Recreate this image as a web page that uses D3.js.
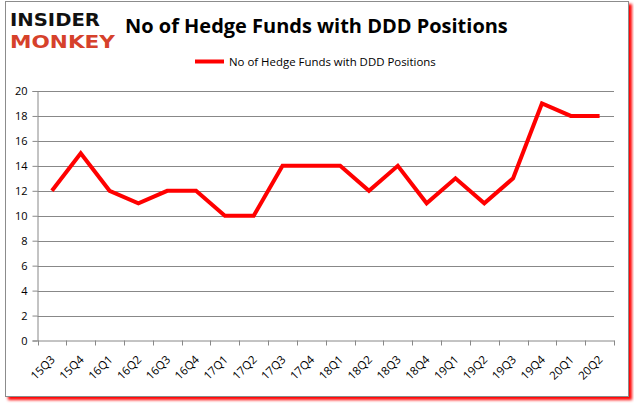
<!DOCTYPE html>
<html><head><meta charset="utf-8">
<script src="https://cdn.jsdelivr.net/npm/d3@7"></script>
<style>html,body{margin:0;padding:0;background:#fff;overflow:hidden}</style>
</head><body>
<svg id="c" width="634" height="404"></svg>
<script>
const categories = ["15Q3","15Q4","16Q1","16Q2","16Q3","16Q4","17Q1","17Q2","17Q3","17Q4","18Q1","18Q2","18Q3","18Q4","19Q1","19Q2","19Q3","19Q4","20Q1","20Q2"];
const values = [12,15,12,11,12,12,10,10,14,14,14,12,14,11,13,11,13,19,18,18];
const yTicks = [0,2,4,6,8,10,12,14,16,18,20];
const title = "No of Hedge Funds with DDD Positions";
const seriesName = "No of Hedge Funds with DDD Positions";

const svg = d3.select("#c");
const defs = svg.append("defs");
const f = defs.append("filter").attr("id","sh").attr("x","-5%").attr("y","-5%").attr("width","110%").attr("height","110%");
f.append("feGaussianBlur").attr("in","SourceAlpha").attr("stdDeviation",1.5).attr("result","b");
f.append("feFlood").attr("flood-color","#ff0000").attr("result","c");
f.append("feComposite").attr("in","c").attr("in2","b").attr("operator","in").attr("result","s");
f.append("feOffset").attr("in","s").attr("dx",3).attr("dy",3).attr("result","o");
const m = f.append("feMerge"); m.append("feMergeNode").attr("in","o"); m.append("feMergeNode").attr("in","SourceGraphic");

svg.append("rect").attr("x",5.5).attr("y",1.5).attr("width",623).attr("height",395)
  .attr("fill","#fff").attr("stroke","#8c8c8c").attr("stroke-width",1).attr("filter","url(#sh)");

const L = 37.5, R = 614, T = 91, B = 340.5;
const x = d3.scaleBand().domain(categories).range([L,R]);
const y = d3.scaleLinear().domain([0,20]).range([B,T]);

// gridlines
svg.append("g").selectAll("line").data(yTicks.filter(d=>d>0)).join("line")
  .attr("x1",L).attr("x2",R).attr("y1",d=>Math.round(y(d))+0.5).attr("y2",d=>Math.round(y(d))+0.5)
  .attr("stroke","#888").attr("stroke-width",1);

// y axis
const ya = svg.append("g").attr("transform",`translate(${L},0)`)
  .call(d3.axisLeft(y).tickValues(yTicks).tickSize(5).tickPadding(5));
ya.select(".domain").attr("stroke","#888");
ya.selectAll(".tick line").attr("stroke","#888");
ya.selectAll("text").attr("font-family","'Open Sans', sans-serif").attr("font-size",11).attr("fill","#000");

// x axis
const xa = svg.append("g").attr("transform",`translate(0,${B})`)
  .call(d3.axisBottom(x).tickSize(0).tickFormat(""));
xa.select(".domain").attr("stroke","#888");
xa.selectAll(".tick").remove();
const bounds = categories.map(c=>x(c)).concat([R]);
svg.append("g").selectAll("line").data(bounds).join("line")
  .attr("x1",d=>Math.round(d)+0.5).attr("x2",d=>Math.round(d)+0.5).attr("y1",B).attr("y2",B+5)
  .attr("stroke","#888");
svg.append("g").selectAll("text").data(categories).join("text")
  .attr("transform",d=>`translate(${x(d)+x.bandwidth()/2+1},${B+17}) rotate(-45)`)
  .attr("text-anchor","end").attr("dy","0.35em")
  .attr("font-family","'Open Sans', sans-serif").attr("font-size",11.5).attr("fill","#000")
  .text(d=>d);

// line
const line = d3.line().x((d,i)=>x(categories[i])+x.bandwidth()/2).y(d=>y(d));
svg.append("path").datum(values).attr("d",line).attr("fill","none")
  .attr("stroke","#ff0000").attr("stroke-width",4).attr("stroke-linejoin","miter");

// title
const t = svg.append("text").attr("x",125).attr("y",33)
  .attr("font-family","'Open Sans', sans-serif").attr("font-weight","bold").attr("font-size",21)
  .attr("fill","#000").text(title);
let w = t.node().getComputedTextLength();
t.attr("font-size",21*383/w);

// legend
svg.append("line").attr("x1",195).attr("x2",224).attr("y1",61.5).attr("y2",61.5)
  .attr("stroke","#ff0000").attr("stroke-width",4);
const lt = svg.append("text").attr("x",229).attr("y",65.5)
  .attr("font-family","'Open Sans', sans-serif").attr("font-size",11).attr("fill","#000").text(seriesName);
w = lt.node().getComputedTextLength();
lt.attr("font-size",11*207/w);

// logo
svg.append("text").attr("x",10).attr("y",26)
  .attr("font-family","'DejaVu Sans', sans-serif").attr("font-weight","bold").attr("font-size",18)
  .attr("fill","#111").attr("textLength",90).attr("lengthAdjust","spacingAndGlyphs").text("INSIDER");
svg.append("text").attr("x",10).attr("y",48)
  .attr("font-family","'DejaVu Sans', sans-serif").attr("font-weight","bold").attr("font-size",18)
  .attr("fill","#d6412b").attr("textLength",105).attr("lengthAdjust","spacingAndGlyphs").text("MONKEY");
</script>
</body></html>
